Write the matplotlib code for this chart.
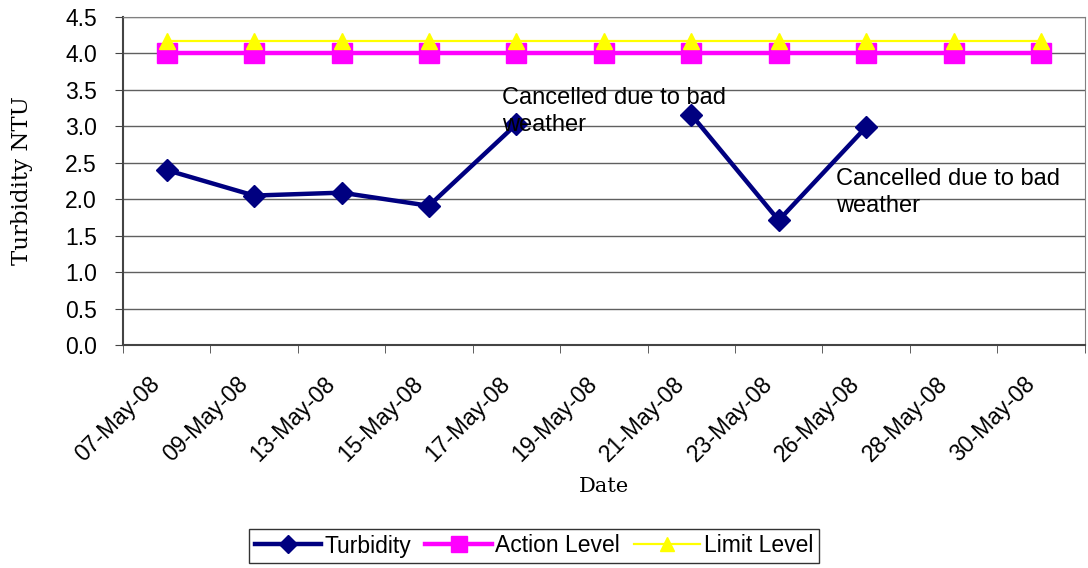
import matplotlib
matplotlib.use("Agg")
import matplotlib.pyplot as plt
import matplotlib.transforms as mtransforms
import numpy as np

dates = ["07-May-08", "09-May-08", "13-May-08", "15-May-08", "17-May-08", "19-May-08",
         "21-May-08", "23-May-08", "26-May-08", "28-May-08", "30-May-08"]
turbidity = [2.40, 2.05, 2.09, 1.91, 3.03, np.nan, 3.16, 1.71, 2.99, np.nan, np.nan]
action_level = [4.0] * 11
limit_level = [4.17] * 11
notes = ["Cancelled due to bad\nweather", "Cancelled due to bad\nweather"]
note_pos = [(3.83, 3.54), (7.66, 2.43)]

plt.rcParams['font.family'] = ['Liberation Sans', 'DejaVu Sans']
FS = 16.5

fig = plt.figure(figsize=(10.88, 5.68), dpi=100)
ax = fig.add_axes([0.113, 0.3926, 0.884, 0.5775])

x = np.arange(len(dates))
ax.plot(x, limit_level, color='#FFFF00', lw=1.6, marker='^', ms=12, mec='#FFFF00',
        label='Limit Level', zorder=3)
ax.plot(x, action_level, color='#FF00FF', lw=3.2, marker='s', ms=14, mec='#FF00FF',
        label='Action Level', zorder=2)
ax.plot(x, turbidity, color='#000080', lw=3.2, marker='D', ms=11, mec='#000080',
        label='Turbidity', zorder=4)

for t, (px, py) in zip(notes, note_pos):
    ax.text(px, py, t, fontsize=17, va='top', ha='left', linespacing=1.32, zorder=5)

ax.set_xlim(-0.5, len(dates) - 0.5)
ax.set_ylim(0, 4.5)
yt = np.arange(0, 4.51, 0.5)
ax.set_yticks(yt)
ax.set_yticklabels([f"{v:.1f}" for v in yt], fontsize=FS)
ax.set_xticks(x)
ax.set_xticklabels(dates, rotation=45, ha='right', va='top', rotation_mode='anchor', fontsize=FS)
ax.tick_params(axis='x', length=0, pad=20)
off = mtransforms.ScaledTranslation(-18 / 100, 0, fig.dpi_scale_trans)
for lab in ax.get_xticklabels():
    lab.set_transform(lab.get_transform() + off)
ax.set_xticks(np.arange(-0.5, len(dates) + 0.5, 1), minor=True)
ax.tick_params(axis='x', which='minor', length=5.8, color='#444444')
ax.tick_params(axis='y', length=5.8, color='#444444', pad=13)
ax.yaxis.grid(True, color='#606060', lw=1)
ax.set_axisbelow(True)
for s in ax.spines.values():
    s.set_color('#808080')
ax.spines['left'].set_color('#444444')
ax.spines['bottom'].set_color('#444444')
ax.spines['left'].set_linewidth(1.5)
ax.spines['bottom'].set_linewidth(1.5)

fig.text(22 / 1088, 1 - 181 / 568, 'Turbidity NTU', family='DejaVu Serif', fontsize=16.5,
         rotation=90, ha='center', va='center')
fig.text(604 / 1088, 1 - 486 / 568, 'Date', family='DejaVu Serif', fontsize=15,
         ha='center', va='center')

h, l = ax.get_legend_handles_labels()
order = [2, 1, 0]
leg = fig.legend([h[i] for i in order], [l[i] for i in order], loc='center',
                 bbox_to_anchor=(534 / 1088, 1 - 546 / 568), ncol=3, fontsize=FS, frameon=True,
                 fancybox=False, edgecolor='black', handlelength=2.9, handletextpad=0.15,
                 columnspacing=0.6, borderpad=0.25, borderaxespad=0, markerscale=0.85)
leg.get_frame().set_linewidth(1)

fig.savefig('out.png', dpi=100)
